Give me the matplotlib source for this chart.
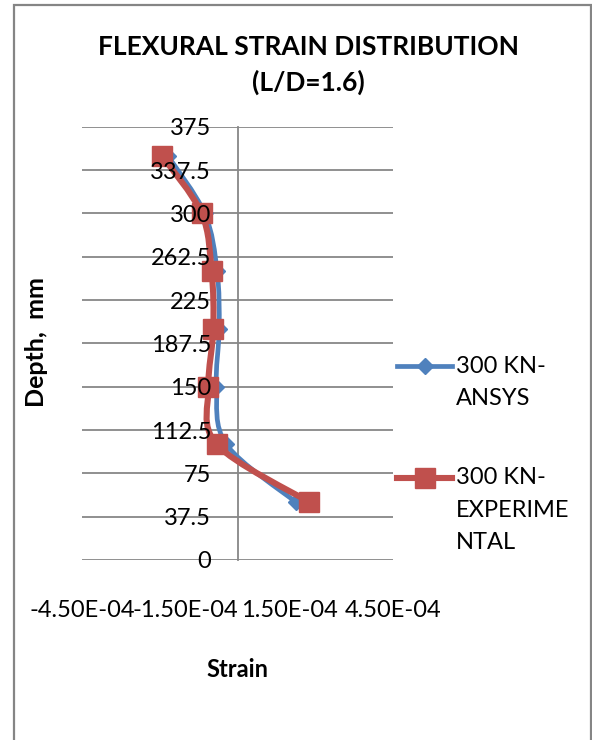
import matplotlib
matplotlib.use("Agg")
import matplotlib.pyplot as plt
from matplotlib.path import Path
from matplotlib.patches import PathPatch, Rectangle
from matplotlib.lines import Line2D
import numpy as np

plt.rcParams['font.family'] = ['Lato', 'DejaVu Sans']

# ---- data ----
depth = [50, 100, 150, 200, 250, 300, 350]
ansys_strain = [1.69e-4, -3.2e-5, -6.1e-5, -5.3e-5, -5.9e-5, -9.5e-5, -2.02e-4]
exp_strain = [2.08e-4, -6.0e-5, -8.4e-5, -7.0e-5, -7.5e-5, -1.04e-4, -2.19e-4]
series_labels = ["300 KN-\nANSYS", "300 KN-\nEXPERIME\nNTAL"]
x_ticks = [-4.5e-4, -1.5e-4, 1.5e-4, 4.5e-4]
x_tick_labels = ["-4.50E-04", "-1.50E-04", "1.50E-04", "4.50E-04"]
y_ticks = [0, 37.5, 75, 112.5, 150, 187.5, 225, 262.5, 300, 337.5, 375]
y_tick_labels = ["0", "37.5", "75", "112.5", "150", "187.5", "225", "262.5", "300", "337.5", "375"]

BLUE = "#4F81BD"
RED = "#C0504D"
GRID = "#878787"

W, H = 592, 740
fig = plt.figure(figsize=(W / 100, H / 100), dpi=100)

# chart border
fig.patches.append(Rectangle((13.5 / W, -0.01), (591 - 13.5) / W, (H - 5) / H + 0.01,
                             transform=fig.transFigure, fill=False,
                             edgecolor="#858585", linewidth=1.6))

ax = fig.add_axes([82 / W, (H - 560) / H, (393 - 82) / W, (560 - 126.7) / H])
ax.set_xlim(-4.5e-4, 4.5e-4)
ax.set_ylim(0, 375)

for s in ['top', 'right', 'bottom']:
    ax.spines[s].set_visible(False)
ax.spines['left'].set_position(('data', 0))
ax.spines['left'].set_color(GRID)
ax.spines['left'].set_linewidth(1.3)
ax.spines['left'].set_zorder(0.6)

ax.set_yticks(y_ticks)
ax.set_yticklabels(y_tick_labels)
ax.set_xticks(x_ticks)
ax.set_xticklabels(x_tick_labels)
ax.tick_params(axis='y', length=0, pad=19, labelsize=17)
ax.tick_params(axis='x', length=0, pad=29, labelsize=17)
ax.grid(False)
for yv in y_ticks:
    ax.axhline(yv, color=GRID, linewidth=1.3, zorder=0.5)
# tick labels drawn above the series, as in the reference
ax.yaxis.set_zorder(10)


def smooth_path(xs, ys):
    pts = np.column_stack([xs, ys])
    n = len(pts)
    verts = [pts[0]]
    codes = [Path.MOVETO]
    for i in range(n - 1):
        p0 = pts[i - 1] if i > 0 else pts[i]
        p1 = pts[i]
        p2 = pts[i + 1]
        p3 = pts[i + 2] if i + 2 < n else pts[i + 1]
        c1 = p1 + (p2 - p0) / 6.0
        c2 = p2 - (p3 - p1) / 6.0
        verts += [c1, c2, p2]
        codes += [Path.CURVE4] * 3
    return Path(verts, codes)


ax.add_patch(PathPatch(smooth_path(ansys_strain, depth), fill=False,
                       edgecolor=BLUE, linewidth=3.4, capstyle='round', zorder=3))
ax.plot(ansys_strain, depth, linestyle='none', marker='D', markersize=8,
        color=BLUE, zorder=4)
ax.add_patch(PathPatch(smooth_path(exp_strain, depth), fill=False,
                       edgecolor=RED, linewidth=4.4, capstyle='round', zorder=5))
ax.plot(exp_strain, depth, linestyle='none', marker='s', markersize=14,
        color=RED, zorder=6)

ax.set_xlabel("Strain", fontsize=17, fontweight='bold', labelpad=0)
ax.xaxis.set_label_coords(237.5 / W, (H - 658) / H, transform=fig.transFigure)
ax.set_ylabel("Depth,  mm", fontsize=18, fontweight='bold')
ax.yaxis.set_label_coords(48 / W, (H - 342.5) / H, transform=fig.transFigure)

fig.text(308 / W, (H - 47) / H, "FLEXURAL STRAIN DISTRIBUTION", ha='center', va='center',
         fontsize=19, fontweight='bold')
fig.text(308 / W, (H - 82) / H, "(L/D=1.6)", ha='center', va='center',
         fontsize=19, fontweight='bold')

# legend (drawn entry by entry so the key sits on the first text line)
leg_entries = [
    (BLUE, 3.4, 'D', 8, 366),
    (RED, 4.4, 's', 14, 478),
]
for (col, lw, mk, ms, yc), lab in zip(leg_entries, series_labels):
    yf = (H - yc) / H
    fig.add_artist(Line2D([397 / W, 452 / W], [yf, yf], transform=fig.transFigure,
                          color=col, linewidth=lw))
    fig.add_artist(Line2D([424.5 / W], [yf], transform=fig.transFigure,
                          color=col, marker=mk, markersize=ms, linestyle='none'))
    for k, line in enumerate(lab.split("\n")):
        fig.text(456 / W, (H - (yc + 32.3 * k)) / H, line, ha='left', va='center',
                 fontsize=17)

fig.savefig("out.png", dpi=100)
